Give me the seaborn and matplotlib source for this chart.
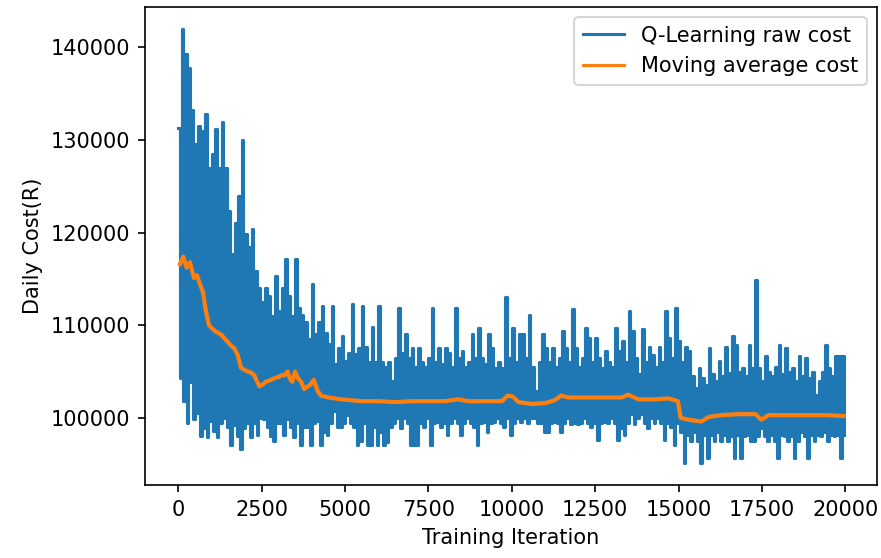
import numpy as np
import pandas as pd
import matplotlib
matplotlib.use("Agg")
import matplotlib.pyplot as plt
import seaborn as sns

# Raw Q-learning daily cost (in thousands), local highs every 100 iterations
raw_highs = [
    131.3, 142.0, 139.3, 137.8, 133.2, 129.6, 131.5, 131.0, 132.8, 127.0,
    128.5, 131.2, 127.0, 131.9, 127.0, 122.3, 117.7, 121.0, 124.0, 130.0,
    119.8, 118.4, 120.4, 115.9, 114.0, 112.5, 114.0, 113.1, 111.0, 115.3,
    111.5, 114.0, 117.2, 113.1, 111.0, 117.2, 111.9, 111.1, 110.4, 108.5,
    114.4, 109.0, 110.4, 112.1, 109.2, 108.0, 112.1, 105.8, 107.5, 108.8,
    106.1, 107.0, 112.3, 106.9, 107.5, 112.1, 107.6, 106.0, 109.8, 106.0,
    112.1, 106.0, 105.5, 106.0, 104.0, 106.5, 111.9, 107.0, 109.0, 106.5,
    107.5, 105.5, 107.5, 106.0, 105.5, 106.5, 111.9, 106.0, 107.5, 105.8,
    107.5, 107.0, 105.5, 111.9, 106.5, 107.2, 105.5, 106.0, 109.0, 106.5,
    109.7, 106.5, 105.8, 109.0, 107.5, 105.4, 106.0, 105.4, 113.0, 106.5,
    109.7, 106.0, 109.0, 109.0, 106.5, 111.1, 105.5, 102.9, 106.0, 109.0,
    107.5, 106.0, 107.5, 105.5, 106.5, 109.4, 107.5, 106.0, 111.7, 107.5,
    105.5, 106.5, 109.7, 108.6, 106.0, 108.6, 106.5, 105.4, 107.2, 106.0,
    105.5, 109.7, 107.2, 108.3, 106.0, 111.5, 109.4, 106.5, 104.7, 109.6,
    106.0, 107.7, 106.8, 105.5, 107.7, 106.0, 111.5, 108.6, 106.5, 111.9,
    108.3, 106.0, 107.7, 107.2, 104.5, 103.2, 105.4, 104.3, 103.5, 107.5,
    104.7, 104.0, 106.1, 104.5, 107.7, 104.8, 108.8, 107.9, 105.0, 105.4,
    104.5, 107.9, 105.4, 114.9, 105.4, 104.0, 106.7, 105.0, 104.5, 105.5,
    107.9, 104.7, 107.5, 105.0, 105.4, 104.0, 106.7, 104.5, 106.5, 104.3,
    105.0, 102.5, 104.0, 105.0, 107.9, 105.4, 104.5, 106.7, 106.7, 106.7,
]

# Local lows, 50 iterations after each high
raw_lows = [
    104.3, 101.8, 99.4, 103.9, 99.9, 100.5, 98.0, 98.9, 97.9, 99.7,
    98.6, 97.9, 99.5, 100.0, 99.0, 97.1, 99.2, 98.0, 96.6, 98.9,
    99.5, 97.9, 99.5, 98.2, 100.0, 99.9, 99.0, 98.0, 97.5, 99.5,
    99.5, 98.2, 99.9, 99.0, 97.9, 99.5, 97.1, 99.0, 99.0, 97.1,
    99.5, 99.7, 97.1, 98.5, 98.2, 99.5, 100.7, 99.0, 99.0, 99.5,
    100.3, 99.5, 99.0, 97.1, 97.5, 99.5, 97.1, 97.1, 99.0, 97.1,
    98.5, 97.1, 97.4, 99.0, 99.5, 100.0, 98.9, 100.0, 99.5, 97.1,
    97.1, 97.1, 99.5, 99.0, 100.0, 97.1, 99.5, 99.6, 99.0, 99.5,
    98.2, 99.5, 100.0, 99.5, 98.2, 99.5, 100.0, 99.5, 99.0, 97.1,
    99.5, 99.6, 98.5, 99.5, 99.6, 100.0, 99.5, 99.0, 100.0, 98.2,
    99.5, 100.0, 99.6, 100.0, 99.5, 100.0, 100.0, 99.5, 99.5, 98.5,
    98.5, 99.5, 99.6, 99.5, 98.5, 99.5, 100.0, 99.3, 99.5, 99.3,
    99.5, 100.0, 99.5, 99.0, 99.5, 97.6, 99.5, 99.6, 99.5, 100.0,
    99.5, 97.6, 98.9, 98.2, 99.5, 100.4, 99.3, 100.0, 100.4, 99.5,
    98.9, 100.0, 99.5, 100.0, 99.5, 97.6, 99.5, 99.0, 97.1, 99.5,
    98.5, 95.1, 98.2, 97.5, 98.5, 97.5, 95.1, 98.2, 95.7, 98.2,
    97.5, 98.5, 97.5, 98.2, 97.5, 98.0, 95.7, 98.2, 95.7, 98.0,
    98.2, 97.5, 97.5, 98.0, 98.9, 98.0, 97.5, 98.2, 97.5, 95.7,
    98.2, 98.0, 97.5, 98.0, 95.7, 97.5, 98.5, 98.0, 95.7, 98.2,
    97.5, 98.2, 98.0, 98.5, 97.5, 98.2, 98.0, 98.2, 95.7, 98.2,
]

# Moving average of the daily cost (in thousands)
ma_iters = [
    50, 150, 250, 350, 470, 560, 650, 740, 830, 920,
    1000, 1130, 1280, 1380, 1480, 1580, 1680, 1780, 1880, 1980,
    2080, 2180, 2280, 2380, 2430, 2530, 2630, 2780, 2900, 3000,
    3100, 3180, 3280, 3350, 3420, 3500, 3580, 3680, 3780, 3880,
    3960, 4060, 4180, 4280, 4500, 4880, 5500, 6000, 6500, 7000,
    7500, 8000, 8380, 8700, 9200, 9700, 9880, 10030, 10200, 10600,
    11000, 11280, 11480, 11700, 12200, 12800, 13300, 13480, 13800, 14300,
    14700, 14980, 15060, 15300, 15680, 15900, 16300, 16800, 17300, 17480,
    17700, 18200, 18800, 19400, 19950,
]
ma_values = [
    116.6, 117.4, 116.2, 116.8, 115.1, 115.4, 114.4, 113.6, 111.5, 110.0,
    109.7, 109.3, 109.0, 108.6, 108.2, 107.8, 107.5, 106.8, 105.4, 105.2,
    105.0, 104.9, 104.6, 103.8, 103.4, 103.6, 103.9, 104.1, 104.3, 104.4,
    104.6, 104.6, 105.0, 104.2, 103.9, 105.0, 104.3, 103.9, 103.1, 103.4,
    103.6, 104.1, 102.9, 102.4, 102.2, 102.0, 101.8, 101.8, 101.7, 101.8,
    101.8, 101.8, 102.0, 101.8, 101.8, 101.8, 102.4, 102.3, 101.7, 101.5,
    101.6, 101.9, 102.4, 102.2, 102.2, 102.2, 102.2, 102.5, 102.0, 102.0,
    102.1, 101.8, 100.0, 99.8, 99.6, 100.1, 100.3, 100.4, 100.4, 99.8,
    100.3, 100.3, 100.3, 100.3, 100.2,
]

# Interleave highs and lows into one raw series
raw_iters = []
raw_costs = []
for i, (hi, lo) in enumerate(zip(raw_highs, raw_lows)):
    raw_iters += [i * 100, i * 100 + 50]
    raw_costs += [hi * 1000, lo * 1000]

raw_df = pd.DataFrame({"iteration": raw_iters, "cost": raw_costs})
ma_df = pd.DataFrame({"iteration": ma_iters, "cost": [v * 1000 for v in ma_values]})

plt.rcParams["font.family"] = ["DejaVu Sans"]
plt.rcParams["font.size"] = 10
fig = plt.figure(figsize=(881 / 150, 558 / 150), dpi=150)
ax = fig.add_axes([145 / 881, 1 - 485 / 558, (877 - 145) / 881, (485 - 7) / 558])

sns.lineplot(data=raw_df, x="iteration", y="cost", ax=ax, color="#1f77b4",
             linewidth=1.5, estimator=None, sort=False, drawstyle="steps-post",
             label="Q-Learning raw cost")
sns.lineplot(data=ma_df, x="iteration", y="cost", ax=ax, color="#ff7f0e",
             linewidth=2.0, estimator=None, sort=False, label="Moving average cost")

ax.set_xlabel("Training Iteration")
ax.set_ylabel("Daily Cost(R)")
ax.set_xticks([0, 2500, 5000, 7500, 10000, 12500, 15000, 17500, 20000])
ax.set_yticks([100000, 110000, 120000, 130000, 140000])
leg = ax.legend(loc="upper right")
for line in leg.get_lines():
    line.set_linewidth(1.5)

fig.savefig("out.png", dpi=150)
